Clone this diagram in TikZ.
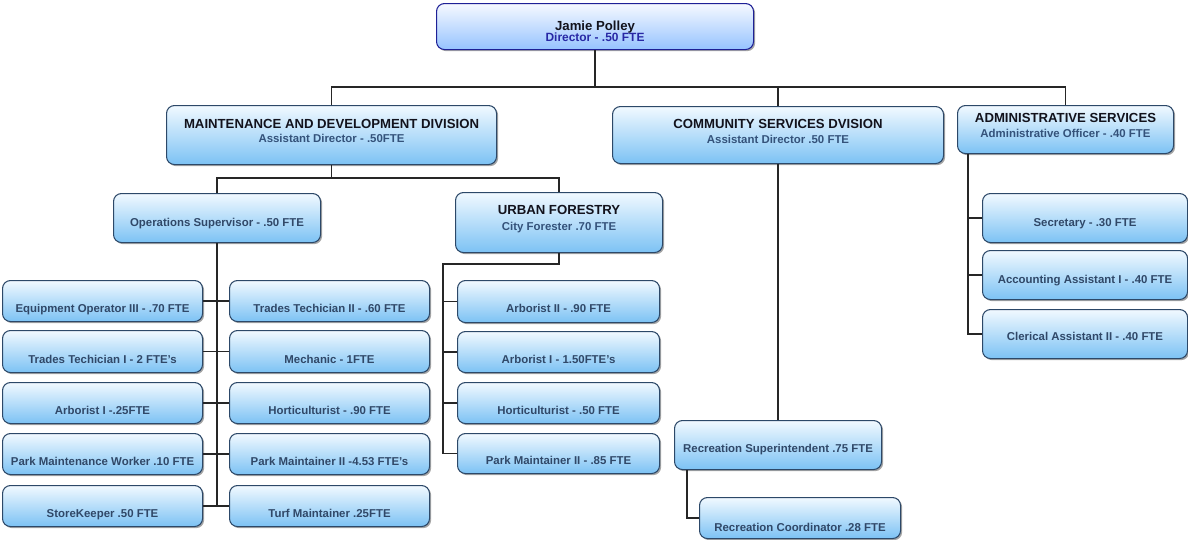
\documentclass[tikz,border=0pt]{standalone}
\usepackage{fontspec}
\setmainfont{Liberation Sans}
\usetikzlibrary{shadows}

% one drawing unit = one pixel of the layout grid
\newdimen\pxu \pxu=0.02cm

\definecolor{cardtop}{RGB}{241,249,255}
\definecolor{cardmid}{RGB}{198,230,252}
\definecolor{cardbot}{RGB}{124,194,244}
\definecolor{cardrim}{RGB}{44,72,104}
\definecolor{headtop}{RGB}{246,249,255}
\definecolor{headmid}{RGB}{205,225,255}
\definecolor{headbot}{RGB}{150,195,255}
\definecolor{headrim}{RGB}{30,32,150}
\definecolor{titleink}{RGB}{18,18,28}
\definecolor{subink}{RGB}{52,82,122}
\definecolor{headsub}{RGB}{40,40,165}
\definecolor{leafink}{RGB}{48,72,104}

\newcommand\cardtitle{\fontsize{7.5}{9}\selectfont\bfseries\color{titleink}}
\newcommand\cardsub{\fontsize{6.5}{8}\selectfont\bfseries\color{subink}}
% two centred lines; the box baseline is that of the second line
\newcommand\dualtext[3]{\vbox{\baselineskip=#1\lineskiplimit=-\maxdimen
  \halign{\hfil##\hfil\cr{#2}\cr{#3}\cr}}}

\tikzset{
  card/.style={draw=cardrim, line width=0.6pt, rounded corners=4.5pt,
    top color=cardtop, middle color=cardmid, bottom color=cardbot,
    inner xsep=0pt, inner ysep=0pt, minimum height=0pt, anchor=north west,
    drop shadow={shadow xshift=0.9pt, shadow yshift=-0.9pt, opacity=0.5, fill=black!70},
    font=\fontsize{6.5}{8}\selectfont\bfseries, text=leafink},
  head/.style={card, draw=headrim, top color=headtop, middle color=headmid, bottom color=headbot},
  geom/.style n args={3}{minimum width=#1\pxu, text height=#2\pxu, text depth=#3\pxu},
  link/.style={draw=black!85, line width=0.7pt},
}

\begin{document}
\begin{tikzpicture}[x=0.02cm, y=-0.02cm]
\useasboundingbox (0,0) rectangle (1188,539);

% director
\node[head, geom={317}{38}{8}] (jamie) at (436,3)
  {\dualtext{6.2pt}{\cardtitle Jamie Polley}{\fontsize{6.8}{8}\selectfont\bfseries\color{headsub}Director - .50 FTE}};

% divisions
\node[card, geom={330}{37}{22}] (maint) at (166,105)
  {\dualtext{7.9pt}{\cardtitle MAINTENANCE AND DEVELOPMENT DIVISION}{\cardsub Assistant Director - .50FTE}};
\node[card, geom={331}{37}{20}] (comm) at (612,106)
  {\dualtext{8.5pt}{\cardtitle COMMUNITY SERVICES DVISION}{\cardsub Assistant Director .50 FTE}};
\node[card, geom={216}{32}{16}] (admin) at (957,105)
  {\dualtext{8.5pt}{\cardtitle ADMINISTRATIVE SERVICES}{\cardsub Administrative Officer - .40 FTE}};

% maintenance sections
\node[card, geom={207}{33}{16}] (ops) at (113,193) {Operations Supervisor - .50 FTE};
\node[card, geom={207}{38}{22}] (urban) at (455,192)
  {\dualtext{9pt}{\cardtitle URBAN FORESTRY}{\cardsub City Forester .70 FTE}};

% operations staff, left column
\node[card, geom={200}{32}{9}] (l1) at (2,280) {Equipment Operator III - .70 FTE};
\node[card, geom={200}{33}{9}] (l2) at (2,330) {Trades Techician I - 2 FTE's};
\node[card, geom={200}{32}{9}] (l3) at (2,382) {Arborist I -.25FTE};
\node[card, geom={200}{32}{9}] (l4) at (2,433) {Park Maintenance Worker .10 FTE};
\node[card, geom={200}{32}{9}] (l5) at (2,485) {StoreKeeper .50 FTE};

% operations staff, right column
\node[card, geom={200}{32}{9}] (r1) at (229,280) {Trades Techician II - .60 FTE};
\node[card, geom={200}{33}{9}] (r2) at (229,330) {Mechanic - 1FTE};
\node[card, geom={200}{32}{9}] (r3) at (229,382) {Horticulturist - .90 FTE};
\node[card, geom={200}{32}{9}] (r4) at (229,433) {Park Maintainer II -4.53 FTE's};
\node[card, geom={200}{32}{9}] (r5) at (229,485) {Turf Maintainer .25FTE};

% urban forestry staff
\node[card, geom={202}{32}{10}] (u1) at (457,280) {Arborist II - .90 FTE};
\node[card, geom={202}{32}{9}] (u2) at (457,331) {Arborist I - 1.50FTE's};
\node[card, geom={202}{32}{9}] (u3) at (457,382) {Horticulturist - .50 FTE};
\node[card, geom={202}{31}{9}] (u4) at (457,433) {Park Maintainer II - .85 FTE};

% administrative staff
\node[card, geom={205}{33}{16}] (a1) at (982,193) {Secretary - .30 FTE};
\node[card, geom={205}{33}{16}] (a2) at (982,250) {Accounting Assistant I - .40 FTE};
\node[card, geom={205}{31}{18}] (a3) at (982,309) {Clerical Assistant II - .40 FTE};

% recreation
\node[card, geom={207}{32}{17}] (recsup) at (674,420) {Recreation Superintendent .75 FTE};
\node[card, geom={201}{34}{7}] (reccoord) at (699,497) {Recreation Coordinator .28 FTE};

% connectors: director to divisions
\coordinate (topbus) at (596,87);
\draw[link] (jamie.south) -- (jamie.south |- topbus);
\draw[link] (maint.north) |- (topbus) -| (admin.north);
\draw[link] (comm.north) -- (comm.north |- topbus);

% maintenance to its sections
\coordinate (midbus) at (331,178);
\draw[link] (maint.south) -- (maint.south |- midbus);
\draw[link] (ops.north) |- (midbus) -| (urban.north);

% operations trunk and rungs
\draw[link] (ops.south) -- (ops.south |- l5.east);
\foreach \i in {1,...,5} \draw[link] (l\i.east) -- (r\i.west);

% urban forestry branch
\coordinate (ubus) at (443,264);
\draw[link] (urban.south) |- (ubus) |- (u4.west);
\foreach \i in {1,2,3} \draw[link] (ubus |- u\i.west) -- (u\i.west);

% community services branch
\draw[link] (comm.south) -- (comm.south |- recsup.north);
\draw[link] ([xshift=13\pxu]recsup.south west) |- (reccoord.west);

% administrative branch
\coordinate (abus) at ([xshift=11\pxu]admin.south west);
\draw[link] (abus) |- (a3.west);
\foreach \i in {1,2} \draw[link] (abus |- a\i.west) -- (a\i.west);
\end{tikzpicture}
\end{document}
